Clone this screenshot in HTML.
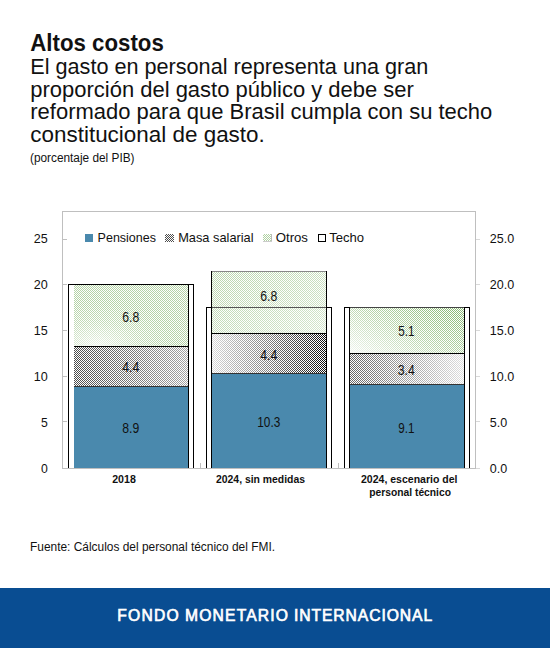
<!DOCTYPE html>
<html><head><meta charset="utf-8">
<style>
html,body{margin:0;padding:0;background:#fff;width:550px;height:648px;overflow:hidden}
svg{display:block}
text{font-family:"Liberation Sans",sans-serif}
</style></head>
<body>
<svg width="550" height="648" viewBox="0 0 550 648">
<defs>
<pattern id="chkK" width="2" height="2" patternUnits="userSpaceOnUse"><rect width="2" height="2" fill="#fff"/><rect x="0" y="0" width="1" height="1" fill="#000"/><rect x="1" y="1" width="1" height="1" fill="#000"/></pattern>
<pattern id="chkG" width="2" height="2" patternUnits="userSpaceOnUse"><rect width="2" height="2" fill="#fff"/><rect x="0" y="0" width="1" height="1" fill="#86b870"/><rect x="1" y="1" width="1" height="1" fill="#86b870"/></pattern>
<linearGradient id="m1" x1="0" y1="0" x2="1" y2="0"><stop offset="0" stop-color="#fff" stop-opacity="0.3"/><stop offset="1" stop-color="#fff" stop-opacity="0.65"/></linearGradient>
<linearGradient id="m2" x1="0" y1="0" x2="1" y2="0"><stop offset="0" stop-color="#fff" stop-opacity="0.85"/><stop offset="0.5" stop-color="#fff" stop-opacity="0.5"/><stop offset="1" stop-color="#fff" stop-opacity="0.05"/></linearGradient>
<linearGradient id="m3" x1="0" y1="0" x2="1" y2="0"><stop offset="0" stop-color="#fff" stop-opacity="0.4"/><stop offset="1" stop-color="#fff" stop-opacity="0.88"/></linearGradient>
<radialGradient id="o1" cx="0.2" cy="1.0" r="0.7"><stop offset="0" stop-color="#fff" stop-opacity="0.85"/><stop offset="0.55" stop-color="#fff" stop-opacity="0.5"/><stop offset="1" stop-color="#fff" stop-opacity="0.38"/></radialGradient>
<linearGradient id="o2" x1="0" y1="0" x2="1" y2="1"><stop offset="0" stop-color="#fff" stop-opacity="0.42"/><stop offset="1" stop-color="#fff" stop-opacity="0.65"/></linearGradient>
<linearGradient id="o3" x1="0" y1="1" x2="1" y2="0.2"><stop offset="0" stop-color="#fff" stop-opacity="0.9"/><stop offset="0.5" stop-color="#fff" stop-opacity="0.45"/><stop offset="1" stop-color="#fff" stop-opacity="0.05"/></linearGradient>
</defs>
<g shape-rendering="crispEdges">
<rect x="62" y="211" width="414" height="1" fill="#bfbfbf"/>
<rect x="62" y="211" width="1" height="258" fill="#bfbfbf"/>
<rect x="475" y="211" width="1" height="258" fill="#bfbfbf"/>
<rect x="62" y="468" width="414" height="1" fill="#bfbfbf"/>
<rect x="63" y="239" width="4" height="1" fill="#bfbfbf"/>
<rect x="63" y="284" width="4" height="1" fill="#bfbfbf"/>
<rect x="63" y="330" width="4" height="1" fill="#bfbfbf"/>
<rect x="63" y="376" width="4" height="1" fill="#bfbfbf"/>
<rect x="63" y="421" width="4" height="1" fill="#bfbfbf"/>
<rect x="476" y="239" width="4" height="1" fill="#d9d9d9"/>
<rect x="476" y="284" width="4" height="1" fill="#d9d9d9"/>
<rect x="476" y="330" width="4" height="1" fill="#d9d9d9"/>
<rect x="476" y="376" width="4" height="1" fill="#d9d9d9"/>
<rect x="476" y="421" width="4" height="1" fill="#d9d9d9"/>
<rect x="476" y="468" width="4" height="1" fill="#d9d9d9"/>
<rect x="200" y="463" width="1" height="5" fill="#bfbfbf"/>
<rect x="338" y="463" width="1" height="5" fill="#bfbfbf"/>
<rect x="68" y="284" width="1" height="184" fill="#000"/>
<rect x="68" y="284" width="126" height="1" fill="#000"/>
<rect x="193" y="284" width="1" height="184" fill="#000"/>
<rect x="206" y="307" width="1" height="161" fill="#000"/>
<rect x="206" y="307" width="126" height="1" fill="#000"/>
<rect x="331" y="307" width="1" height="161" fill="#000"/>
<rect x="344" y="307" width="1" height="161" fill="#000"/>
<rect x="344" y="307" width="126" height="1" fill="#000"/>
<rect x="469" y="307" width="1" height="161" fill="#000"/>
<rect x="74" y="284" width="114" height="62" fill="url(#chkG)"/>
<rect x="74" y="284" width="114" height="62" fill="url(#o1)"/>
<rect x="74" y="346" width="114" height="40" fill="url(#chkK)"/>
<rect x="74" y="346" width="114" height="40" fill="url(#m1)"/>
<rect x="74" y="346" width="114" height="1" fill="#000"/>
<rect x="74" y="386" width="114" height="1" fill="#333"/>
<rect x="74" y="387" width="114" height="81" fill="#4a89ad"/>
<rect x="74" y="284" width="115" height="1" fill="#000"/>
<rect x="188" y="284" width="1" height="184" fill="#000"/>
<rect x="212" y="271" width="114" height="62" fill="url(#chkG)"/>
<rect x="212" y="271" width="114" height="62" fill="url(#o2)"/>
<rect x="212" y="333" width="114" height="40" fill="url(#chkK)"/>
<rect x="212" y="333" width="114" height="40" fill="url(#m2)"/>
<rect x="212" y="333" width="114" height="1" fill="#000"/>
<rect x="212" y="373" width="114" height="1" fill="#333"/>
<rect x="212" y="374" width="114" height="94" fill="#4a89ad"/>
<rect x="211" y="271" width="116" height="1" fill="#888"/>
<rect x="211" y="271" width="1" height="197" fill="#000"/>
<rect x="326" y="271" width="1" height="197" fill="#000"/>
<rect x="212" y="307" width="114" height="1" fill="#555"/>
<rect x="350" y="307" width="114" height="46" fill="url(#chkG)"/>
<rect x="350" y="307" width="114" height="46" fill="url(#o3)"/>
<rect x="350" y="353" width="114" height="31" fill="url(#chkK)"/>
<rect x="350" y="353" width="114" height="31" fill="url(#m3)"/>
<rect x="350" y="353" width="114" height="1" fill="#000"/>
<rect x="350" y="384" width="114" height="1" fill="#333"/>
<rect x="350" y="385" width="114" height="83" fill="#4a89ad"/>
<rect x="349" y="307" width="116" height="1" fill="#444"/>
<rect x="349" y="307" width="1" height="161" fill="#000"/>
<rect x="464" y="307" width="1" height="161" fill="#000"/>
<rect x="85" y="234" width="8" height="8" fill="#4a89ad"/>
<rect x="165" y="234" width="9" height="8" fill="url(#chkK)"/>
<rect x="165" y="234" width="9" height="8" fill="#fff" fill-opacity="0.3"/>
<rect x="263" y="234" width="9" height="8" fill="url(#chkG)"/>
<rect x="263" y="234" width="9" height="8" fill="#fff" fill-opacity="0.35"/>
<rect x="271" y="234" width="1" height="8" fill="#bbb"/>
<rect x="263" y="241" width="9" height="1" fill="#ccc"/>
<rect x="318" y="234" width="8" height="1" fill="#000"/>
<rect x="318" y="241" width="8" height="1" fill="#000"/>
<rect x="318" y="234" width="1" height="8" fill="#000"/>
<rect x="325" y="234" width="1" height="8" fill="#000"/>
</g>
<rect x="0" y="588" width="550" height="60" fill="#094d92"/>
<text x="30.3" y="50.8" font-size="24" fill="#111" font-weight="bold" textLength="133.5" lengthAdjust="spacingAndGlyphs">Altos costos</text>
<text x="30.3" y="73.8" font-size="22" fill="#111" textLength="398" lengthAdjust="spacingAndGlyphs">El gasto en personal representa una gran</text>
<text x="30.3" y="96.8" font-size="22" fill="#111" textLength="383.5" lengthAdjust="spacingAndGlyphs">proporción del gasto público y debe ser</text>
<text x="30.3" y="119.3" font-size="22" fill="#111" textLength="462" lengthAdjust="spacingAndGlyphs">reformado para que Brasil cumpla con su techo</text>
<text x="30.3" y="142" font-size="22" fill="#111" textLength="234.5" lengthAdjust="spacingAndGlyphs">constitucional de gasto.</text>
<text x="30" y="162" font-size="12.5" fill="#111" textLength="104.5" lengthAdjust="spacingAndGlyphs">(porcentaje del PIB)</text>
<text x="97.6" y="241.7" font-size="13" fill="#111" textLength="58.4" lengthAdjust="spacingAndGlyphs">Pensiones</text>
<text x="178.2" y="241.7" font-size="13" fill="#111" textLength="75.4" lengthAdjust="spacingAndGlyphs">Masa salarial</text>
<text x="275.7" y="241.7" font-size="13" fill="#111" textLength="32.3" lengthAdjust="spacingAndGlyphs">Otros</text>
<text x="329.2" y="241.7" font-size="13" fill="#111" textLength="34.9" lengthAdjust="spacingAndGlyphs">Techo</text>
<text x="33.7" y="243.3" font-size="13.5" fill="#111" textLength="14" lengthAdjust="spacingAndGlyphs">25</text>
<text x="33.7" y="289.2" font-size="13.5" fill="#111" textLength="14" lengthAdjust="spacingAndGlyphs">20</text>
<text x="33.7" y="335.1" font-size="13.5" fill="#111" textLength="14" lengthAdjust="spacingAndGlyphs">15</text>
<text x="33.7" y="381.0" font-size="13.5" fill="#111" textLength="14" lengthAdjust="spacingAndGlyphs">10</text>
<text x="40.900000000000006" y="426.9" font-size="13.5" fill="#111" textLength="6.8" lengthAdjust="spacingAndGlyphs">5</text>
<text x="40.900000000000006" y="472.8" font-size="13.5" fill="#111" textLength="6.8" lengthAdjust="spacingAndGlyphs">0</text>
<text x="489.8" y="243.3" font-size="13.5" fill="#111" textLength="24.4" lengthAdjust="spacingAndGlyphs">25.0</text>
<text x="489.8" y="289.2" font-size="13.5" fill="#111" textLength="24.4" lengthAdjust="spacingAndGlyphs">20.0</text>
<text x="489.8" y="335.1" font-size="13.5" fill="#111" textLength="24.4" lengthAdjust="spacingAndGlyphs">15.0</text>
<text x="489.8" y="381.0" font-size="13.5" fill="#111" textLength="24.4" lengthAdjust="spacingAndGlyphs">10.0</text>
<text x="489.8" y="426.9" font-size="13.5" fill="#111" textLength="17.4" lengthAdjust="spacingAndGlyphs">5.0</text>
<text x="489.8" y="472.8" font-size="13.5" fill="#111" textLength="17.4" lengthAdjust="spacingAndGlyphs">0.0</text>
<text x="122.3" y="321.59999999999997" font-size="14" fill="#111" textLength="17" lengthAdjust="spacingAndGlyphs">6.8</text>
<text x="122.3" y="371.9" font-size="14" fill="#111" textLength="17" lengthAdjust="spacingAndGlyphs">4.4</text>
<text x="122.3" y="433.4" font-size="14" fill="#111" textLength="17" lengthAdjust="spacingAndGlyphs">8.9</text>
<text x="260.3" y="301.09999999999997" font-size="14" fill="#111" textLength="17" lengthAdjust="spacingAndGlyphs">6.8</text>
<text x="260.3" y="360.09999999999997" font-size="14" fill="#111" textLength="17" lengthAdjust="spacingAndGlyphs">4.4</text>
<text x="257.3" y="426.79999999999995" font-size="14" fill="#111" textLength="23" lengthAdjust="spacingAndGlyphs">10.3</text>
<text x="398.2" y="336.4" font-size="14" fill="#111" textLength="16.2" lengthAdjust="spacingAndGlyphs">5.1</text>
<text x="397.8" y="375.4" font-size="14" fill="#111" textLength="17" lengthAdjust="spacingAndGlyphs">3.4</text>
<text x="398.2" y="432.7" font-size="14" fill="#111" textLength="16.2" lengthAdjust="spacingAndGlyphs">9.1</text>
<text x="112.2" y="482.5" font-size="11.5" fill="#111" font-weight="bold" textLength="23.6" lengthAdjust="spacingAndGlyphs">2018</text>
<text x="216" y="482.6" font-size="11.5" fill="#111" font-weight="bold" textLength="89" lengthAdjust="spacingAndGlyphs">2024, sin medidas</text>
<text x="361" y="482.7" font-size="11.5" fill="#111" font-weight="bold" textLength="96.5" lengthAdjust="spacingAndGlyphs">2024, escenario del</text>
<text x="369.2" y="496.3" font-size="11.5" fill="#111" font-weight="bold" textLength="81.8" lengthAdjust="spacingAndGlyphs">personal técnico</text>
<text x="30" y="550.8" font-size="12.5" fill="#111" textLength="245" lengthAdjust="spacingAndGlyphs">Fuente: Cálculos del personal técnico del FMI.</text>
<text transform="translate(117.30,620.8) scale(0.95,1)" x="0" y="0" font-size="16.5" fill="#fff" stroke="#fff" stroke-width="0.7" textLength="64.74" lengthAdjust="spacing">FONDO</text>
<text transform="translate(185.10,620.8) scale(0.95,1)" x="0" y="0" font-size="16.5" fill="#fff" stroke="#fff" stroke-width="0.7" textLength="108.21" lengthAdjust="spacing">MONETARIO</text>
<text transform="translate(294.00,620.8) scale(0.95,1)" x="0" y="0" font-size="16.5" fill="#fff" stroke="#fff" stroke-width="0.7" textLength="145.37" lengthAdjust="spacing">INTERNACIONAL</text>
</svg>
</body></html>
